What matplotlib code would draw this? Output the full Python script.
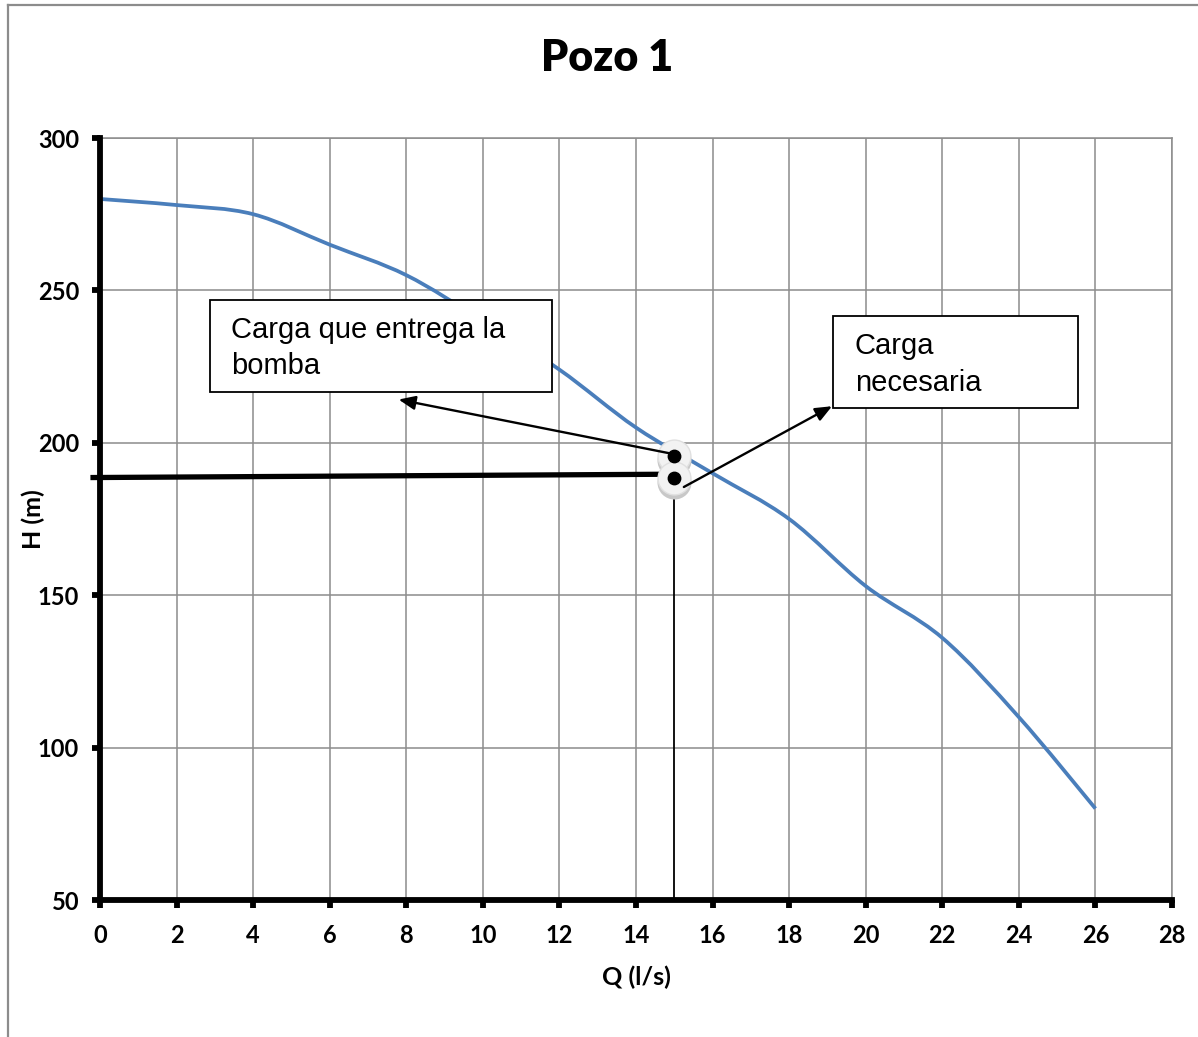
import numpy as np
import matplotlib
matplotlib.use("Agg")
from matplotlib import pyplot as plt
from matplotlib.path import Path
from matplotlib.patches import PathPatch, Rectangle
from matplotlib.lines import Line2D

# pump curve
q_pump = [0, 2, 4, 6, 8, 10, 12, 14, 16, 18, 20, 22, 24, 26]
h_pump = [280, 278, 275, 265, 255, 240, 224, 205, 190, 175, 153, 136, 110, 80]

# operating point
q_op = 15
h_delivered = 195.8
h_required = 188.5
h_line = [188.6, 189.7]
q_line = [-0.25, 15]

x_ticks = list(range(0, 29, 2))
y_ticks = [50, 100, 150, 200, 250, 300]

title = "Pozo 1"
x_label = "Q (l/s)"
y_label = "H (m)"
label_delivered = "Carga que entrega la\nbomba"
label_required = "Carga\nnecesaria"

bold_font = "Lato"
box_font = "Liberation Sans"


def smooth_path(x, y):
    # catmull-rom style bezier through the points, like excel's smoothed line
    pts = np.column_stack([x, y]).astype(float)
    verts = [pts[0]]
    codes = [Path.MOVETO]
    n = len(pts)
    for i in range(n - 1):
        p0 = pts[i - 1] if i > 0 else pts[i]
        p1 = pts[i]
        p2 = pts[i + 1]
        p3 = pts[i + 2] if i + 2 < n else pts[i + 1]
        c1 = p1 + (p2 - p0) / 6.0
        c2 = p2 - (p3 - p1) / 6.0
        verts += [c1, c2, p2]
        codes += [Path.CURVE4] * 3
    return Path(verts, codes)


W, H = 1198, 1037
fig = plt.figure(figsize=(W / 100, H / 100), dpi=100)
ax = fig.add_axes([100 / W, 137 / H, 1072 / W, 762 / H])

ax.set_xlim(0, 28)
ax.set_ylim(50, 300)
ax.set_xticks(x_ticks)
ax.set_yticks(y_ticks)
ax.grid(True, color="#8c8c8c", linewidth=1.1, zorder=0)
ax.set_axisbelow(True)

for side in ["left", "bottom"]:
    ax.spines[side].set_linewidth(4.2)
    ax.spines[side].set_color("black")
    ax.spines[side].set_zorder(5)
for side in ["top", "right"]:
    ax.spines[side].set_linewidth(1.1)
    ax.spines[side].set_color("#8c8c8c")

ax.tick_params(axis="both", which="major", length=6, width=4.2, color="black",
               direction="out", labelsize=17)
ax.tick_params(axis="x", pad=11)
ax.tick_params(axis="y", pad=9)
for lbl in ax.get_xticklabels() + ax.get_yticklabels():
    lbl.set_fontfamily(bold_font)
    lbl.set_fontweight("bold")

# pump curve
ax.add_patch(PathPatch(smooth_path(q_pump, h_pump), facecolor="none",
                       edgecolor="#4a7ebb", linewidth=2.7, zorder=3))

# operating point lines
ax.plot(q_line, h_line, color="black", linewidth=3.8, zorder=6, clip_on=False,
        solid_capstyle="butt")
ax.plot([q_op, q_op], [50, h_required], color="black", linewidth=1.3, zorder=4)

# markers with a soft shadow
for hv in [h_delivered, h_required]:
    ax.scatter([q_op], [hv - 1.4], s=600, color="#c8c8c8", zorder=7, linewidths=0)
    ax.scatter([q_op], [hv], s=560, color="#f2f2f2", edgecolors="#e0e0e0",
               linewidths=1, zorder=8)
    ax.scatter([q_op], [hv], s=80, color="black", zorder=9)

# text boxes
ax.add_patch(Rectangle((2.87, 216.7), 11.8 - 2.87, 246.9 - 216.7, facecolor="white",
                       edgecolor="black", linewidth=1.3, zorder=10))
ax.text(3.42, 241.6, label_delivered, fontsize=21, family=box_font, va="top",
        ha="left", linespacing=1.38, zorder=11)

ax.add_patch(Rectangle((19.14, 211.4), 25.54 - 19.14, 241.6 - 211.4, facecolor="white",
                       edgecolor="black", linewidth=1.3, zorder=10))
ax.text(19.72, 236.3, label_required, fontsize=21, family=box_font, va="top",
        ha="left", linespacing=1.38, zorder=11)

# arrows
arrow_style = "-|>,head_length=1.0,head_width=0.42"
ax.annotate("", xy=(7.8, 214.2), xytext=(14.9, 196.5),
            arrowprops=dict(arrowstyle=arrow_style, color="black", lw=1.7,
                            shrinkA=0, shrinkB=0), zorder=12)
ax.annotate("", xy=(19.12, 212.0), xytext=(15.25, 185.5),
            arrowprops=dict(arrowstyle=arrow_style, color="black", lw=1.7,
                            shrinkA=0, shrinkB=0), zorder=12)

# titles and labels
fig.text(607 / W, 1 - 58 / H, title, fontsize=31, fontweight="heavy",
         family=bold_font, ha="center", va="center")
fig.text(636 / W, 1 - 977 / H, x_label, fontsize=18, fontweight="bold",
         family=bold_font, ha="center", va="center")
fig.text(33 / W, 1 - 519 / H, y_label, fontsize=18, fontweight="bold",
         family=bold_font, ha="center", va="center", rotation=90)

# outer frame (only top and left show)
fig.add_artist(Line2D([8 / W, 1], [1 - 5 / H, 1 - 5 / H], color="#8c8c8c", lw=1.6))
fig.add_artist(Line2D([8 / W, 8 / W], [0, 1 - 5 / H], color="#8c8c8c", lw=1.6))

fig.savefig("out.png", dpi=100, facecolor="white")
